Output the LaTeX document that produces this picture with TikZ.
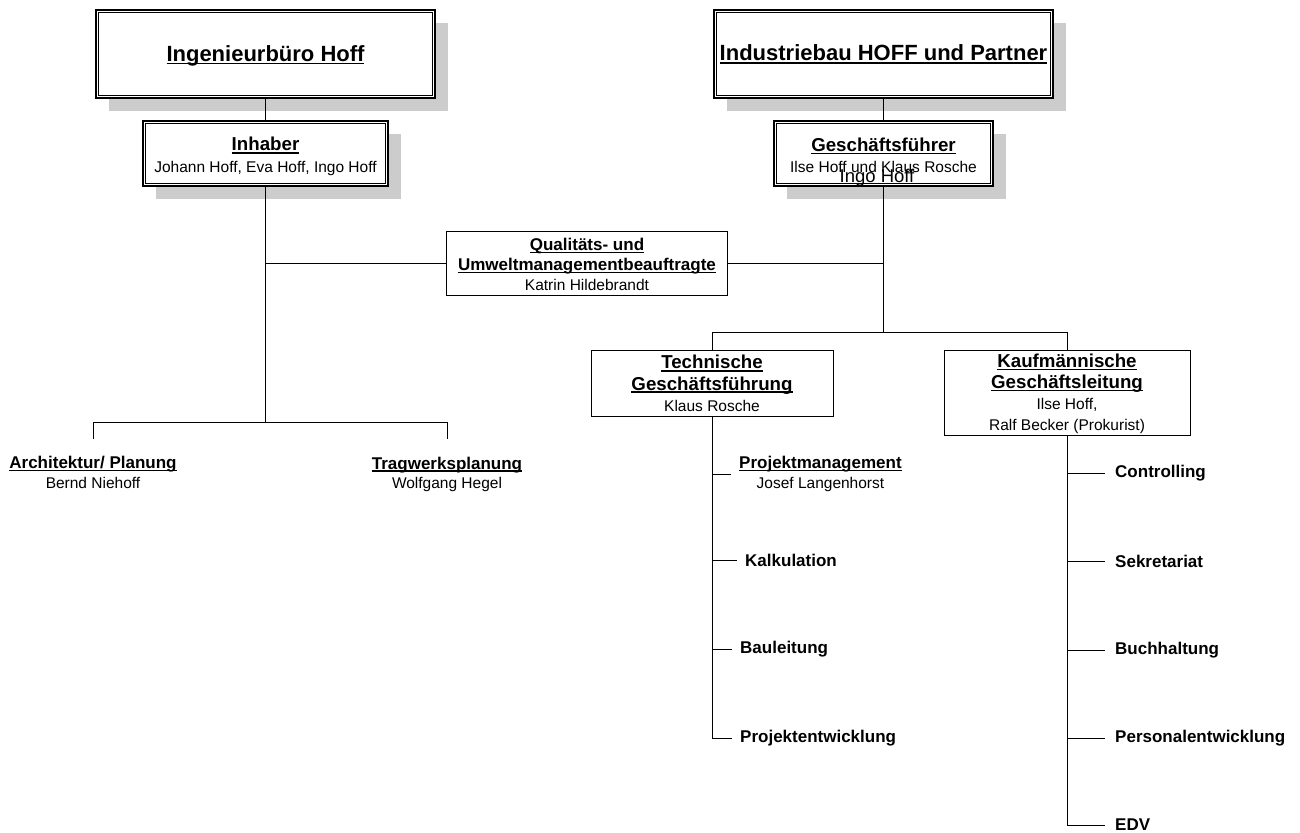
\documentclass[tikz,border=0pt]{standalone}
\usepackage{fontspec}
\setmainfont{Liberation Sans}
\usetikzlibrary{shadows}
\definecolor{shadowgray}{HTML}{CCCCCC}
\newcommand\ulx[1]{\setbox0=\hbox{#1}\rlap{\rule[-0.15em]{\wd0}{0.085em}}\box0}
\newcommand\fTop{\fontsize{22}{26}\selectfont\bfseries}
\newcommand\fHead{\fontsize{18.7}{22}\selectfont\bfseries}
\newcommand\fLeaf{\fontsize{17}{19.5}\selectfont\bfseries}
\newcommand\topstrut[1]{\rule{0pt}{#1}}
\tikzset{
  box/.style={draw, fill=white, line width=1pt, inner sep=0pt, align=center,
    font=\fontsize{15.5}{21.5}\selectfont},
  dbox/.style={box, line width=2pt,
    drop shadow={shadow xshift=13pt, shadow yshift=-13pt, fill=shadowgray, opacity=1}},
  leaf/.style={anchor=west, inner xsep=8pt, inner ysep=0pt, font=\fLeaf},
  twoleaf/.style={inner sep=0pt, align=center, font=\fontsize{15.5}{19.5}\selectfont},
  conn/.style={line width=1pt}
}
\begin{document}
\begin{tikzpicture}[x=1pt,y=-1pt]
\fill[white] (0,0) rectangle (1300,832);
\useasboundingbox (0,0) rectangle (1300,832);

% top boxes
\node[dbox, minimum width=339pt, minimum height=88pt] (A) at (265.5,54) {\fTop\topstrut{19pt}\ulx{Ingenieurbüro Hoff}};
\node[dbox, minimum width=245pt, minimum height=65pt] (B) at (265.5,153.5)
  {\fHead\topstrut{19.6pt}\ulx{Inhaber}\\Johann Hoff, Eva Hoff, Ingo Hoff};
\node[dbox, minimum width=339pt, minimum height=88pt] (C) at (883.5,54) {\fTop\ulx{Industriebau HOFF und Partner}};
\node[dbox, minimum width=219pt, minimum height=65pt] (D) at (883.5,153.5)
  {\fHead\topstrut{17.6pt}\ulx{Geschäftsführer}\\Ilse Hoff und Klaus Rosche};
\foreach \n in {A,B,C,D}
  \draw[line width=0.8pt] ([xshift=3.5pt,yshift=-3.5pt]\n.north west) rectangle ([xshift=-3.5pt,yshift=3.5pt]\n.south east);
\node[inner sep=0pt, font=\fontsize{18.5}{22}\selectfont] (ingo) at (877,177.5) {Ingo Hoff};

% middle boxes
\node[box, minimum width=281pt, minimum height=64pt, font=\fontsize{15.5}{20}\selectfont] (Q) at (587,263.5)
  {\fLeaf\topstrut{14.5pt}\ulx{Qualitäts- und}\\\fLeaf\ulx{Umweltmanagementbeauftragte}\\Katrin Hildebrandt};
\node[box, minimum width=242pt, minimum height=66pt] (T) at (712,383.5)
  {\fHead\ulx{Technische}\\\fHead\ulx{Geschäftsführung}\\Klaus Rosche};
\node[box, minimum width=246pt, minimum height=85pt, font=\fontsize{15.5}{21}\selectfont] (K) at (1067,392.5)
  {\fHead\topstrut{16.5pt}\ulx{Kaufmännische}\\\fHead\ulx{Geschäftsleitung}\\Ilse Hoff,\\Ralf Becker (Prokurist)};

% left leaves
\node[twoleaf] (arch) at (93,472.5) {\fLeaf\ulx{Architektur/ Planung}\\Bernd Niehoff};
\node[twoleaf] (trag) at (447,474.5) {\fLeaf\ulx{Tragwerksplanung}\\Wolfgang Hegel};

% technical leaves
\node[twoleaf, anchor=west, inner xsep=8pt] (pm) at (731,474) {\fLeaf\ulx{Projektmanagement}\\Josef Langenhorst};
\node[leaf] (kalk) at (737,560) {Kalkulation};
\node[leaf] (bau) at (732,649) {Bauleitung};
\node[leaf] (pe) at (732,738) {Projektentwicklung};

% commercial leaves
\node[leaf, inner xsep=10pt] (ctrl) at (1105,473) {Controlling};
\node[leaf, inner xsep=10pt] (sek) at (1105,561) {Sekretariat};
\node[leaf, inner xsep=10pt] (buch) at (1105,650) {Buchhaltung};
\node[leaf, inner xsep=10pt] (pers) at (1105,738) {Personalentwicklung};
\node[leaf, inner xsep=10pt] (edv) at (1105,825) {EDV};

% coordinates
\coordinate (lsplit) at (265.5,422);
\coordinate (archtop) at (93,439);
\coordinate (tragtop) at (447,439);
\coordinate (rsplit) at (883.5,332);

% connectors
\draw[conn] (A.south) -- (B.north);
\draw[conn] (C.south) -- (D.north);
\draw[conn] (B.south) -- (lsplit);
\draw[conn] (archtop) -- (archtop |- lsplit) -- (tragtop |- lsplit) -- (tragtop);
\draw[conn] (B.south |- Q.west) -- (Q.west);
\draw[conn] (Q.east) -- (D.south |- Q.east);
\draw[conn] (D.south) -- (rsplit);
\draw[conn] (T.north) -- (T.north |- rsplit) -- (K.north |- rsplit) -- (K.north);
\draw[conn] (T.south) -- (T.south |- pe.west) -- (pe.west);
\foreach \n in {pm,kalk,bau} \draw[conn] (T.south |- \n.west) -- (\n.west);
\draw[conn] (K.south) -- (K.south |- edv.west) -- (edv.west);
\foreach \n in {ctrl,sek,buch,pers} \draw[conn] (K.south |- \n.west) -- (\n.west);
\end{tikzpicture}
\end{document}
